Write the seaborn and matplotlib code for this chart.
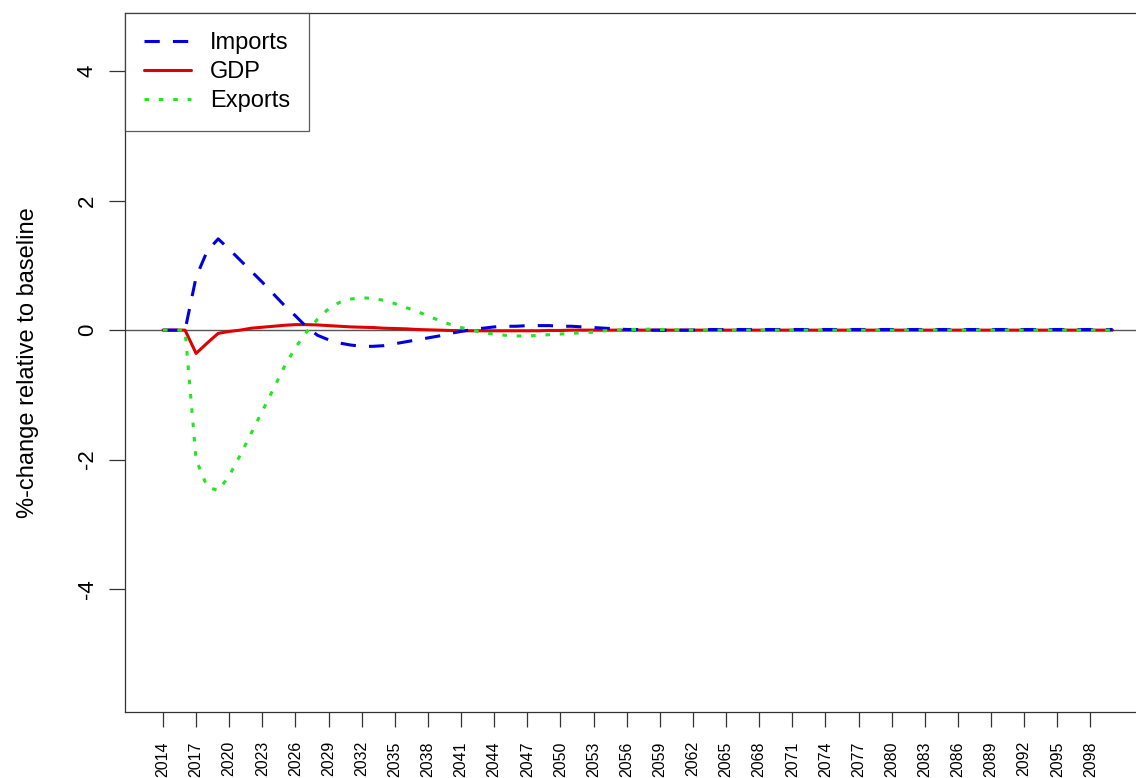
import numpy as np
import pandas as pd
import matplotlib
matplotlib.use("Agg")
import matplotlib.pyplot as plt
import seaborn as sns
from matplotlib.lines import Line2D

years = list(range(2014, 2101))

imports = [0.0, 0.0, 0.0, 0.82, 1.22, 1.41, 1.25, 1.08, 0.91, 0.74,
           0.56, 0.38, 0.22, 0.05, -0.08, -0.15, -0.20, -0.23, -0.25, -0.25,
           -0.24, -0.21, -0.18, -0.15, -0.12, -0.09, -0.05, -0.02, 0.01, 0.03,
           0.05, 0.06, 0.06, 0.07, 0.07, 0.07, 0.06, 0.06, 0.05, 0.04,
           0.03, 0.02, 0.01, 0.01, 0.0, 0.0, 0.0, 0.0, 0.0, 0.01,
           0.01, 0.01, 0.01, 0.01, 0.01, 0.01, 0.01, 0.01, 0.01, 0.01,
           0.01, 0.01, 0.01, 0.01, 0.01, 0.01, 0.01, 0.01, 0.01, 0.01,
           0.01, 0.01, 0.01, 0.01, 0.01, 0.01, 0.01, 0.01, 0.01, 0.01,
           0.01, 0.01, 0.01, 0.01, 0.01, 0.01, 0.01]

gdp = [0.0, 0.0, 0.0, -0.36, -0.20, -0.05, -0.02, 0.0, 0.03, 0.045,
       0.06, 0.075, 0.085, 0.085, 0.08, 0.07, 0.06, 0.05, 0.045, 0.04,
       0.03, 0.025, 0.02, 0.01, 0.005, 0.0, -0.005, -0.01, -0.01, -0.01,
       -0.01, -0.01, -0.01, -0.01, -0.01, -0.005, -0.005, 0.0, 0.0, 0.0,
       0.0, 0.0, 0.0, 0.0, 0.0, 0.0, 0.0, 0.0, 0.0, 0.0,
       0.0, 0.0, 0.0, 0.0, 0.0, 0.0, 0.0, 0.0, 0.0, 0.0,
       0.0, 0.0, 0.0, 0.0, 0.0, 0.0, 0.0, 0.0, 0.0, 0.0,
       0.0, 0.0, 0.0, 0.0, 0.0, 0.0, 0.0, 0.0, 0.0, 0.0,
       0.0, 0.0, 0.0, 0.0, 0.0, 0.0, 0.0]

exports = [0.0, 0.0, 0.0, -2.00, -2.42, -2.48, -2.25, -1.93, -1.59, -1.25,
           -0.91, -0.56, -0.27, -0.03, 0.17, 0.33, 0.43, 0.48, 0.50, 0.49,
           0.46, 0.41, 0.35, 0.29, 0.22, 0.15, 0.09, 0.04, 0.0, -0.04,
           -0.06, -0.08, -0.09, -0.09, -0.08, -0.07, -0.06, -0.05, -0.04, -0.03,
           -0.01, 0.0, 0.01, 0.01, 0.015, 0.01, 0.01, 0.0, 0.0, 0.0,
           0.0, 0.0, 0.0, 0.0, 0.0, 0.0, 0.0, 0.0, 0.0, 0.0,
           0.0, 0.0, 0.0, 0.0, 0.0, 0.0, 0.0, 0.0, 0.0, 0.0,
           0.0, 0.0, 0.0, 0.0, 0.0, 0.0, 0.0, 0.0, 0.0, 0.0,
           0.0, 0.0, 0.0, 0.0, 0.0, 0.0, 0.0]

series_names = ["Imports", "GDP", "Exports"]
colors = {"Imports": "#0000DD", "GDP": "#E00000", "Exports": "#22E622"}
dash_styles = {"Imports": (5.0, 4.3), "GDP": "", "Exports": (1.5, 3.2)}
xtick_years = list(range(2014, 2099, 3))
yticks = [-4, -2, 0, 2, 4]

df = pd.DataFrame({
    "year": years * 3,
    "value": imports + gdp + exports,
    "series": ["Imports"] * len(years) + ["GDP"] * len(years) + ["Exports"] * len(years),
})

sns.set_theme(style="white")
plt.rcParams["font.family"] = ["Liberation Sans", "DejaVu Sans"]
plt.rcParams["text.color"] = "black"
plt.rcParams["axes.labelcolor"] = "black"
plt.rcParams["xtick.color"] = "black"
plt.rcParams["ytick.color"] = "black"

W, H = 1136, 778
fig = plt.figure(figsize=(W / 100, H / 100), dpi=100)
left_px, right_px, top_px, bot_px = 125, 1150.5, 13, 712
ax = fig.add_axes([left_px / W, 1 - bot_px / H, (right_px - left_px) / W, (bot_px - top_px) / H])

ax.axhline(0, color="#555555", lw=1.0, zorder=1)

lw = 2.2
for name in ["GDP", "Imports", "Exports"]:
    sub = df[df["series"] == name]
    sns.lineplot(data=sub, x="year", y="value", ax=ax, color=colors[name],
                 lw=lw, legend=False, zorder=3)
    line = ax.get_lines()[-1]
    if dash_styles[name]:
        line.set_dashes(dash_styles[name])

ax.set_xlim(2014 - 3.44, 2100 + 3.44)
ax.set_ylim(-5.9, 4.9)
ax.set_xticks(xtick_years)
ax.set_xticklabels([str(y) for y in xtick_years], rotation=90, fontsize=11.5)
ax.set_yticks(yticks)
ax.set_yticklabels([str(v) for v in yticks], rotation=90, fontsize=16)
for lab in ax.get_yticklabels():
    lab.set_va("center")
ax.tick_params(axis="x", direction="out", length=11, width=0.9, color="#333333",
               labelcolor="black", pad=10, bottom=True)
ax.tick_params(axis="y", direction="out", length=11.5, width=0.9, color="#333333",
               labelcolor="black", pad=8, left=True)
ax.set_xlabel("")
ax.set_ylabel("%-change relative to baseline", fontsize=17, color="black")
ax.yaxis.set_label_coords(-0.084, 0.5)

for sp in ax.spines.values():
    sp.set_visible(True)
    sp.set_color("#333333")
    sp.set_linewidth(0.9)

handles = []
for name in series_names:
    h = Line2D([], [], color=colors[name], lw=lw)
    if dash_styles[name]:
        h.set_dashes(dash_styles[name])
    handles.append(h)
leg = ax.legend(handles, series_names, loc="upper left", bbox_to_anchor=(0, 1),
                borderaxespad=0, fontsize=17, frameon=True, fancybox=False,
                handlelength=2.0, handletextpad=0.8, borderpad=0.8, labelspacing=0.3)
leg.get_frame().set_edgecolor("#333333")
leg.get_frame().set_linewidth(0.9)
for t in leg.get_texts():
    t.set_color("black")

fig.savefig("out.png", dpi=100)
